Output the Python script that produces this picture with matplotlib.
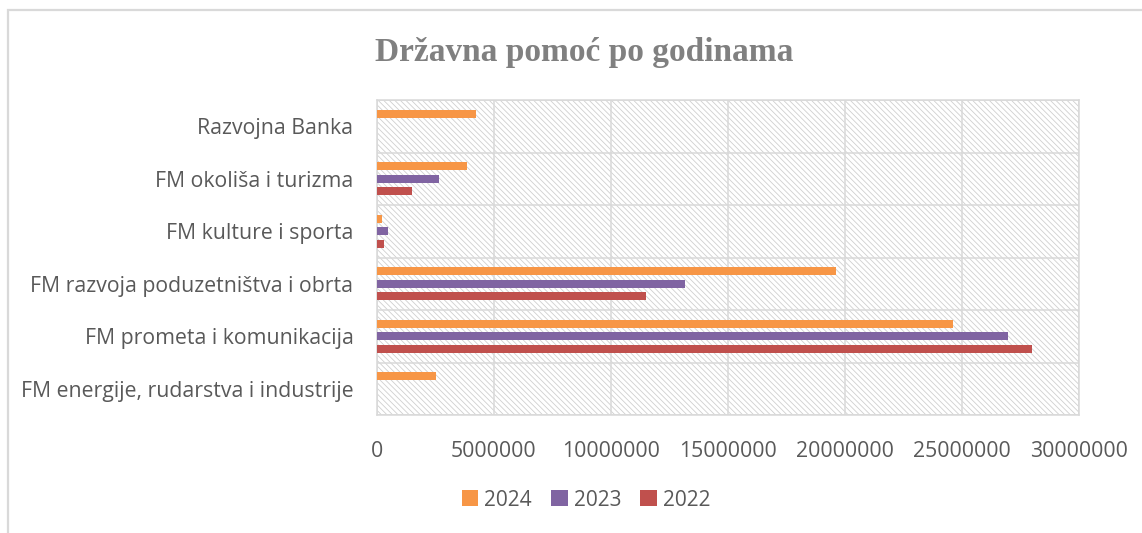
import matplotlib
matplotlib.use("Agg")
import matplotlib.pyplot as plt
import numpy as np
from matplotlib.patches import Rectangle

categories = [
    "FM energije, rudarstva i industrije",
    "FM prometa i komunikacija",
    "FM razvoja poduzetništva i obrta",
    "FM kulture i sporta",
    "FM okoliša i turizma",
    "Razvojna Banka",
]
values_2024 = [2500000, 24600000, 19600000, 200000, 3850000, 4250000]
values_2023 = [0, 26950000, 13150000, 470000, 2650000, 0]
values_2022 = [0, 27980000, 11500000, 300000, 1500000, 0]
series_names = ["2024", "2023", "2022"]
xticks = [0, 5000000, 10000000, 15000000, 20000000, 25000000, 30000000]
title = "Državna pomoć po godinama"

colors = ["#F79646", "#8064A2", "#C0504D"]
plt.rcParams['hatch.linewidth'] = 0.6

W, H = 1142, 533
fig = plt.figure(figsize=(W / 100, H / 100), dpi=100)
fig.patch.set_facecolor('white')

# outer chart frame
fig.patches.append(Rectangle((8 / W, -0.2), 1.5, (H - 10) / H + 0.2,
                             transform=fig.transFigure, fill=False,
                             edgecolor='#d9d9d9', linewidth=1.6))

ax = fig.add_axes([377 / W, (H - 415) / H, (1079 - 377) / W, (415 - 100) / H])
ax.set_facecolor('white')
ax.add_patch(Rectangle((0, 0), 1, 1, transform=ax.transAxes, facecolor='white',
                       edgecolor='#cfcfcf', linewidth=0, hatch='\\' * 6, zorder=0))

y = np.arange(len(categories))
h = 0.155
step = 0.24
for vals, off, c, name in zip([values_2024, values_2023, values_2022],
                              [step, 0, -step], colors, series_names):
    ax.barh(y + off, vals, height=h, color=c, label=name, zorder=3)

ax.set_xlim(0, 30000000)
ax.set_ylim(-0.5, len(categories) - 0.5)
ax.set_xticks(xticks)
ax.set_xticklabels([str(v) for v in xticks])
ax.set_yticks(y)
ax.set_yticklabels(categories)
ax.set_yticks(np.arange(-0.5, len(categories), 1), minor=True)
ax.grid(True, axis='x', which='major', color='#d9d9d9', linewidth=1.1, zorder=1)
ax.grid(True, axis='y', which='minor', color='#d9d9d9', linewidth=1.1, zorder=1)
ax.set_axisbelow(True)
ax.tick_params(axis='both', which='both', length=0)
ax.tick_params(axis='y', pad=17)
ax.tick_params(axis='x', pad=19)
for lab in ax.get_xticklabels() + ax.get_yticklabels():
    lab.set_fontfamily('Open Sans')
    lab.set_fontsize(15.3)
    lab.set_color('#595959')
for s in ax.spines.values():
    s.set_color('#d9d9d9')
    s.set_linewidth(1.1)

fig.text(584 / W, 1 - 52 / H, title, ha='center', va='center',
         fontfamily='Liberation Serif', fontweight='bold', fontsize=24,
         color='#808080')

leg = fig.legend(loc='center', bbox_to_anchor=(586 / W, 1 - 500 / H), ncol=3,
                 frameon=False, prop={'family': 'Open Sans', 'size': 15},
                 handlelength=0.8, handleheight=0.8, handletextpad=0.3,
                 columnspacing=0.9)
for t in leg.get_texts():
    t.set_color('#595959')

fig.savefig('out.png', dpi=100, facecolor='white')
